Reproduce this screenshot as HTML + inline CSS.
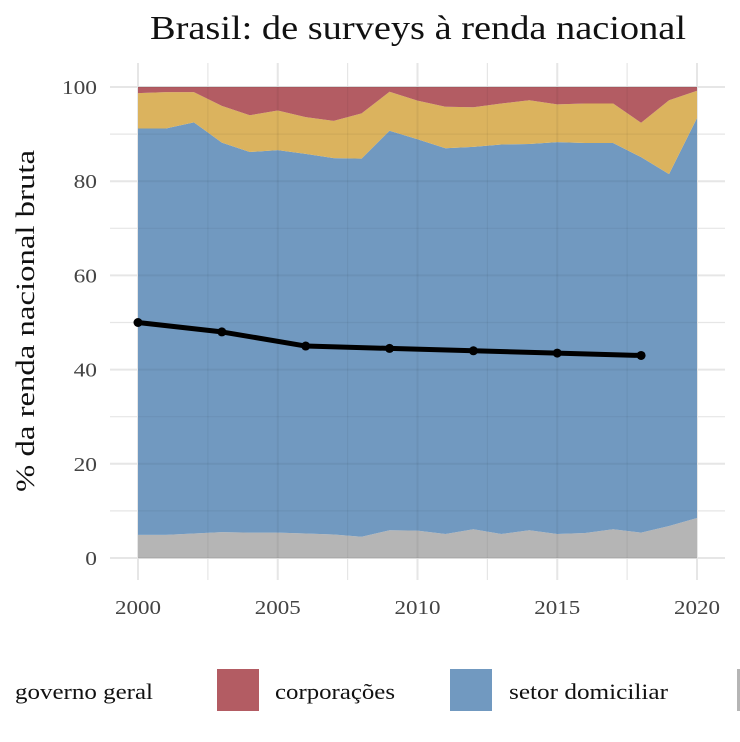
<!DOCTYPE html>
<html><head><meta charset="utf-8"><style>
body{margin:0;background:#fff;}
svg{display:block;font-family:"Liberation Serif",serif;}
</style></head><body>
<svg id="chart" width="740" height="742" viewBox="0 0 740 742" xmlns="http://www.w3.org/2000/svg">
<text x="150" y="39" font-size="34" textLength="536" lengthAdjust="spacingAndGlyphs" fill="#111">Brasil: de surveys à renda nacional</text>
<g id="grid"></g>
<g id="areas"></g>
<g id="gridtop"></g>
<g id="line"></g>
<g id="axes"></g>
<text transform="translate(34,492) rotate(-90)" font-size="26" textLength="342" lengthAdjust="spacingAndGlyphs" fill="#111">% da renda nacional bruta</text>
<g>
<text x="15" y="699" font-size="22" textLength="138" lengthAdjust="spacingAndGlyphs" fill="#111">governo geral</text>
<rect x="217" y="669" width="42" height="42" fill="#b35c63"/>
<text x="275" y="699" font-size="22" textLength="120" lengthAdjust="spacingAndGlyphs" fill="#111">corporações</text>
<rect x="450" y="669" width="42" height="42" fill="#7199c0"/>
<text x="509" y="699" font-size="22" textLength="159" lengthAdjust="spacingAndGlyphs" fill="#111">setor domiciliar</text>
<rect x="737" y="669" width="3" height="42" fill="#b5b5b5"/>
</g>
</svg>
<script>
const years=[2000,2001,2002,2003,2004,2005,2006,2007,2008,2009,2010,2011,2012,2013,2014,2015,2016,2017,2018,2019,2020];
const governo=[4.9,4.9,5.2,5.5,5.4,5.4,5.2,5.0,4.5,5.9,5.8,5.1,6.1,5.1,5.9,5.1,5.3,6.1,5.4,6.8,8.5];
const govPlusDom=[91.2,91.2,92.5,88.2,86.2,86.6,85.8,84.9,84.8,90.7,88.9,87.0,87.3,87.8,87.9,88.3,88.1,88.1,85.1,81.5,93.4];
const govDomCorpUnd=[98.7,98.9,98.9,96.0,94.0,95.0,93.6,92.8,94.4,99.0,97.1,95.8,95.7,96.5,97.2,96.3,96.5,96.5,92.4,97.2,99.2];
const surveyYears=[2000,2003,2006,2009,2012,2015,2018];
const surveyValues=[50,48,45,44.5,44,43.5,43];
const xTicks=[2000,2005,2010,2015,2020];
const yTicks=[0,20,40,60,80,100];
const ns="http://www.w3.org/2000/svg";
const X=v=>138+(v-2000)*(697-138)/20;
const Y=v=>558-v*(558-87)/100;
function mk(t,a,p){const e=document.createElementNS(ns,t);for(const k in a)e.setAttribute(k,a[k]);p.appendChild(e);return e;}
const grid=document.getElementById('grid');
for(let v=0;v<=100;v+=10){const l=mk('line',{x1:110,x2:725,y1:Y(v),y2:Y(v),stroke:'#e6e6e6','stroke-width':v%20==0?2:1.2},grid);

}
for(let y=2000;y<=2020;y+=2.5){const l=mk('line',{x1:X(y),x2:X(y),y1:63,y2:580,stroke:'#e6e6e6','stroke-width':y%5==0?2:1.2},grid);

}
const areas=document.getElementById('areas');
function band(lo,hi,c,name){let d='M'+years.map((y,i)=>X(y)+','+Y(hi[i])).join('L');
for(let i=years.length-1;i>=0;i--)d+='L'+X(years[i])+','+Y(lo[i]);
const p=mk('path',{d:d+'Z',fill:c},areas);

}
const zero=years.map(()=>0),hundred=years.map(()=>100);
band(zero,governo,'#b5b5b5','area-governo-geral');
band(governo,govPlusDom,'#7199c0','area-setor-domiciliar');
band(govPlusDom,govDomCorpUnd,'#dbb35e','area-yellow');
band(govDomCorpUnd,hundred,'#b35c63','area-corporacoes');
const gt=document.getElementById('gridtop');
for(let v=0;v<=100;v+=10){const l=mk('line',{x1:X(2000),x2:X(2020),y1:Y(v),y2:Y(v),stroke:'#000','stroke-opacity':0.05,'stroke-width':v%20==0?2:1.2},gt);

}
for(let y=2002.5;y<2020;y+=2.5){const l=mk('line',{x1:X(y),x2:X(y),y1:Y(0),y2:Y(100),stroke:'#000','stroke-opacity':0.05,'stroke-width':y%5==0?2:1.2},gt);

}
const lg=document.getElementById('line');
const pl=mk('polyline',{points:surveyYears.map((y,i)=>X(y)+','+Y(surveyValues[i])).join(' '),fill:'none',stroke:'#000','stroke-width':5,'stroke-linejoin':'round'},lg);


surveyYears.forEach((y,i)=>{const c=mk('circle',{cx:X(y),cy:Y(surveyValues[i]),r:4.5,fill:'#000'},lg);

});
const ax=document.getElementById('axes');
yTicks.forEach(v=>{const s=String(v);const t=mk('text',{x:97,y:Y(v)+7,'font-size':20,'text-anchor':'end',textLength:s.length*11.7,lengthAdjust:'spacingAndGlyphs',fill:'#444'},ax);t.textContent=s;

});
xTicks.forEach(v=>{const t=mk('text',{x:X(v)-23,y:614,'font-size':20,textLength:46,lengthAdjust:'spacingAndGlyphs',fill:'#444'},ax);t.textContent=v;

});
</script>
</body></html>
